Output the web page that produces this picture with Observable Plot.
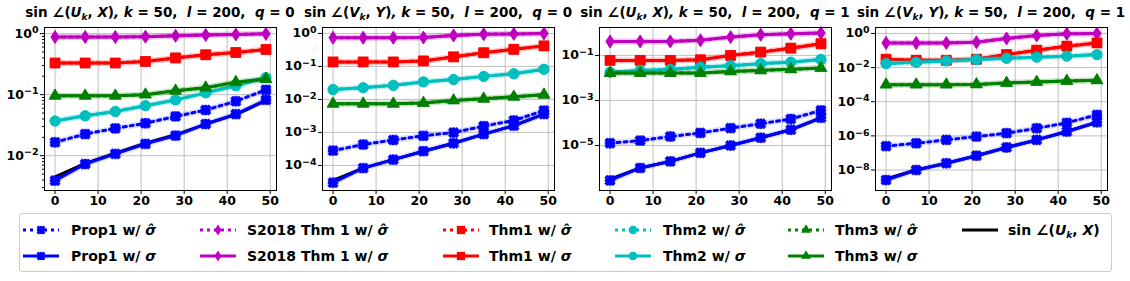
<!DOCTYPE html>
<html><head><meta charset="utf-8">
<script src="https://cdn.jsdelivr.net/npm/d3@7"></script>
<script src="https://cdn.jsdelivr.net/npm/@observablehq/plot@0.6"></script>
<style>
body{margin:0;background:#fff;font-family:"DejaVu Sans",sans-serif;font-weight:bold;color:#000}
#root{position:relative;width:1130px;height:281px;overflow:hidden}
.panel{position:absolute;top:0}
.title{position:absolute;top:4px;width:400px;text-align:center;font-size:13.5px;white-space:pre}
.legend{position:absolute;left:19px;top:213px;width:1093px;height:59px;border:1px solid #ccc;border-radius:3px;box-sizing:border-box}
.lg-item{position:absolute;font-size:14px;white-space:nowrap;line-height:16px}
.lg-swatch{position:absolute}
sub{font-size:9px;vertical-align:-3px}
</style>
</head><body>
<div id="root"></div>
<script>
// ---- data (markers every 7 iterations) ----
const iters = [0, 7, 14, 21, 28, 35, 42, 49];
const seriesKeys = ["trueSin", "prop1Hat", "prop1", "s2018Hat", "s2018", "thm1Hat", "thm1", "thm2Hat", "thm2", "thm3Hat", "thm3"];

// panel 1: sin∠(U_k,X), q=0
const ux0_trueSin = [0.0045, 0.0075, 0.011, 0.016, 0.022, 0.033, 0.047, 0.080];
const ux0_prop1Hat = [0.0166, 0.0226, 0.028, 0.034, 0.044, 0.056, 0.078, 0.12];
const ux0_prop1 = [0.0039, 0.0073, 0.0107, 0.0156, 0.0213, 0.033, 0.048, 0.082];
const ux0_s2018Hat = [0.88, 0.88, 0.88, 0.89, 0.92, 0.95, 0.97, 0.99];
const ux0_s2018 = [0.88, 0.88, 0.88, 0.89, 0.92, 0.95, 0.97, 0.99];
const ux0_thm1Hat = [0.33, 0.33, 0.33, 0.35, 0.40, 0.45, 0.49, 0.55];
const ux0_thm1 = [0.33, 0.33, 0.33, 0.35, 0.40, 0.45, 0.49, 0.55];
const ux0_thm2Hat = [0.037, 0.045, 0.053, 0.066, 0.082, 0.107, 0.14, 0.19];
const ux0_thm2 = [0.037, 0.045, 0.053, 0.066, 0.082, 0.107, 0.14, 0.19];
const ux0_thm3Hat = [0.096, 0.096, 0.096, 0.10, 0.116, 0.13, 0.16, 0.18];
const ux0_thm3 = [0.096, 0.096, 0.096, 0.10, 0.116, 0.13, 0.16, 0.18];

// panel 2: sin∠(V_k,Y), q=0
const vy0_trueSin = [0.000035, 0.000083, 0.00015, 0.00027, 0.00047, 0.00089, 0.0016, 0.0036];
const vy0_prop1Hat = [0.00028, 0.00043, 0.00059, 0.00079, 0.00099, 0.00155, 0.0023, 0.0046];
const vy0_prop1 = [0.00003, 0.000083, 0.00015, 0.00027, 0.00047, 0.00089, 0.0016, 0.0036];
const vy0_s2018Hat = [0.74, 0.74, 0.74, 0.75, 0.87, 0.95, 0.97, 1.0];
const vy0_s2018 = [0.74, 0.74, 0.74, 0.75, 0.87, 0.95, 0.97, 1.0];
const vy0_thm1Hat = [0.137, 0.137, 0.137, 0.147, 0.195, 0.26, 0.33, 0.42];
const vy0_thm1 = [0.137, 0.137, 0.137, 0.147, 0.195, 0.26, 0.33, 0.42];
const vy0_thm2Hat = [0.020, 0.0227, 0.0267, 0.034, 0.040, 0.050, 0.060, 0.082];
const vy0_thm2 = [0.020, 0.0227, 0.0267, 0.034, 0.040, 0.050, 0.060, 0.082];
const vy0_thm3Hat = [0.0074, 0.0074, 0.0074, 0.0078, 0.0093, 0.0105, 0.012, 0.0139];
const vy0_thm3 = [0.0074, 0.0074, 0.0074, 0.0078, 0.0093, 0.0105, 0.012, 0.0139];

// panel 3: sin∠(U_k,X), q=1
const ux1_trueSin = [3.2e-7, 1.0e-6, 1.96e-6, 4.7e-6, 1.0e-5, 2.2e-5, 5.0e-5, 1.7e-4];
const ux1_prop1Hat = [1.26e-5, 1.65e-5, 2.5e-5, 3.6e-5, 5.9e-5, 9.2e-5, 1.5e-4, 3.6e-4];
const ux1_prop1 = [2.8e-7, 1.0e-6, 1.96e-6, 4.7e-6, 1.0e-5, 2.2e-5, 5.0e-5, 1.7e-4];
const ux1_s2018Hat = [0.42, 0.42, 0.42, 0.47, 0.65, 0.83, 0.92, 0.98];
const ux1_s2018 = [0.42, 0.42, 0.42, 0.47, 0.65, 0.83, 0.92, 0.98];
const ux1_thm1Hat = [0.06, 0.06, 0.06, 0.064, 0.10, 0.14, 0.21, 0.33];
const ux1_thm1 = [0.06, 0.06, 0.06, 0.064, 0.10, 0.14, 0.21, 0.33];
const ux1_thm2Hat = [0.018, 0.0216, 0.024, 0.030, 0.035, 0.043, 0.050, 0.066];
const ux1_thm2 = [0.018, 0.0216, 0.024, 0.030, 0.035, 0.043, 0.050, 0.066];
const ux1_thm3Hat = [0.0164, 0.0164, 0.0164, 0.0164, 0.0195, 0.0216, 0.024, 0.0273];
const ux1_thm3 = [0.0164, 0.0164, 0.0164, 0.0164, 0.0195, 0.0216, 0.024, 0.0273];

// panel 4: sin∠(V_k,Y), q=1
const vy1_trueSin = [3.0e-9, 1.0e-8, 2.5e-8, 6.9e-8, 2.1e-7, 5.8e-7, 1.8e-6, 6.3e-6];
const vy1_prop1Hat = [2.5e-7, 3.7e-7, 5.8e-7, 9.1e-7, 1.44e-6, 2.8e-6, 5.8e-6, 1.7e-5];
const vy1_prop1 = [2.6e-9, 1.0e-8, 2.5e-8, 6.9e-8, 2.1e-7, 5.8e-7, 1.8e-6, 6.3e-6];
const vy1_s2018Hat = [0.28, 0.28, 0.28, 0.31, 0.51, 0.76, 0.95, 1.0];
const vy1_s2018 = [0.28, 0.28, 0.28, 0.31, 0.51, 0.76, 0.95, 1.0];
const vy1_thm1Hat = [0.031, 0.027, 0.027, 0.031, 0.058, 0.105, 0.18, 0.28];
const vy1_thm1 = [0.031, 0.027, 0.027, 0.031, 0.058, 0.105, 0.18, 0.28];
const vy1_thm2Hat = [0.0172, 0.0206, 0.0247, 0.0295, 0.0354, 0.041, 0.047, 0.058];
const vy1_thm2 = [0.0172, 0.0206, 0.0247, 0.0295, 0.0354, 0.041, 0.047, 0.058];
const vy1_thm3Hat = [0.0010, 0.0010, 0.0010, 0.00104, 0.00126, 0.00144, 0.00165, 0.0018];
const vy1_thm3 = [0.0010, 0.0010, 0.0010, 0.00104, 0.00126, 0.00144, 0.00165, 0.0018];

// y tick exponents per panel
const ux0_ticks = [0, -1, -2];
const vy0_ticks = [0, -1, -2, -3, -4];
const ux1_ticks = [-1, -3, -5];
const vy1_ticks = [0, -2, -4, -6, -8];
const xTicks = [0, 10, 20, 30, 40, 50];

// ---- symbols ----
function crossPath(ctx, a, L, rot) {
  const pts = [[-a,-L],[a,-L],[a,-a],[L,-a],[L,a],[a,a],[a,L],[-a,L],[-a,a],[-L,a],[-L,-a],[-a,-a]];
  const c = Math.cos(rot), s = Math.sin(rot);
  pts.forEach(([x, y], i) => { const X = x*c - y*s, Y = x*s + y*c; i ? ctx.lineTo(X, Y) : ctx.moveTo(X, Y); });
  ctx.closePath();
}
const starX = {draw(ctx, size) { const r = Math.sqrt(size / Math.PI); crossPath(ctx, 0.3*r, 1.05*r, Math.PI/4); crossPath(ctx, 0.24*r, 0.88*r, 0); }};
const thinDiamond = {draw(ctx, size) { const r = Math.sqrt(size / Math.PI); ctx.moveTo(0, -1.1*r); ctx.lineTo(0.7*r, 0); ctx.lineTo(0, 1.1*r); ctx.lineTo(-0.7*r, 0); ctx.closePath(); }};

const style = {
  trueSin: {color: "#000000", symbol: null, dash: null, r: 0},
  prop1Hat: {color: "#0000ff", symbol: starX, dash: "3,4", r: 5.6},
  prop1: {color: "#0000ff", symbol: starX, dash: null, r: 5.6},
  s2018Hat: {color: "#bf00bf", symbol: thinDiamond, dash: "3,4", r: 5.9},
  s2018: {color: "#bf00bf", symbol: thinDiamond, dash: null, r: 5.9},
  thm1Hat: {color: "#ff0000", symbol: d3.symbolSquare, dash: "3,4", r: 5.6},
  thm1: {color: "#ff0000", symbol: d3.symbolSquare, dash: null, r: 5.6},
  thm2Hat: {color: "#00bfbf", symbol: d3.symbolCircle, dash: "3,4", r: 5.2},
  thm2: {color: "#00bfbf", symbol: d3.symbolCircle, dash: null, r: 5.2},
  thm3Hat: {color: "#008000", symbol: d3.symbolTriangle, dash: "3,4", r: 4.4},
  thm3: {color: "#008000", symbol: d3.symbolTriangle, dash: null, r: 4.4}
};

const panels = [
  {vals: {trueSin: ux0_trueSin, prop1Hat: ux0_prop1Hat, prop1: ux0_prop1, s2018Hat: ux0_s2018Hat, s2018: ux0_s2018, thm1Hat: ux0_thm1Hat, thm1: ux0_thm1, thm2Hat: ux0_thm2Hat, thm2: ux0_thm2, thm3Hat: ux0_thm3Hat, thm3: ux0_thm3},
   ticks: ux0_ticks, domain: [-2.57, 0.1], minor: true, left: 0, title: 'sin ∠(<i>U<sub>k</sub></i>, <i>X</i>)<i>,</i> <i>k</i> = 50,  <i>l</i> = 200,  <i>q</i> = 0'},
  {vals: {trueSin: vy0_trueSin, prop1Hat: vy0_prop1Hat, prop1: vy0_prop1, s2018Hat: vy0_s2018Hat, s2018: vy0_s2018, thm1Hat: vy0_thm1Hat, thm1: vy0_thm1, thm2Hat: vy0_thm2Hat, thm2: vy0_thm2, thm3Hat: vy0_thm3Hat, thm3: vy0_thm3},
   ticks: vy0_ticks, domain: [-4.76, 0.18], minor: false, left: 278, title: 'sin ∠(<i>V<sub>k</sub></i>, <i>Y</i>)<i>,</i> <i>k</i> = 50,  <i>l</i> = 200,  <i>q</i> = 0'},
  {vals: {trueSin: ux1_trueSin, prop1Hat: ux1_prop1Hat, prop1: ux1_prop1, s2018Hat: ux1_s2018Hat, s2018: ux1_s2018, thm1Hat: ux1_thm1Hat, thm1: ux1_thm1, thm2Hat: ux1_thm2Hat, thm2: ux1_thm2, thm3Hat: ux1_thm3Hat, thm3: ux1_thm3},
   ticks: ux1_ticks, domain: [-7.0, 0.24], minor: false, left: 555, title: 'sin ∠(<i>U<sub>k</sub></i>, <i>X</i>)<i>,</i> <i>k</i> = 50,  <i>l</i> = 200,  <i>q</i> = 1'},
  {vals: {trueSin: vy1_trueSin, prop1Hat: vy1_prop1Hat, prop1: vy1_prop1, s2018Hat: vy1_s2018Hat, s2018: vy1_s2018, thm1Hat: vy1_thm1Hat, thm1: vy1_thm1, thm2Hat: vy1_thm2Hat, thm2: vy1_thm2, thm3Hat: vy1_thm3Hat, thm3: vy1_thm3},
   ticks: vy1_ticks, domain: [-9.2, 0.35], minor: false, left: 831, title: 'sin ∠(<i>V<sub>k</sub></i>, <i>Y</i>)<i>,</i> <i>k</i> = 50,  <i>l</i> = 200,  <i>q</i> = 1'}
];

const root = document.getElementById("root");
const W = 280, ML = 44, MR = 4, MT = 27, MB = 22, H = 212;

for (const p of panels) {
  const rows = seriesKeys.flatMap(k => iters.map((x, i) => ({x, y: p.vals[k][i], key: k})));
  const yTickVals = p.ticks.map(e => Math.pow(10, e));
  const marks = [
    Plot.gridX(xTicks, {stroke: "#b0b0b0", strokeOpacity: 1, strokeWidth: 0.8}),
    Plot.gridY(yTickVals, {stroke: "#b0b0b0", strokeOpacity: 1, strokeWidth: 0.8})
  ];
  for (const k of seriesKeys) {
    const s = style[k];
    const data = rows.filter(r => r.key === k);
    if (k !== "trueSin") marks.push(Plot.line(data, {x: "x", y: "y", stroke: s.color, strokeWidth: 6, strokeOpacity: 0.13}));
    marks.push(Plot.line(data, {x: "x", y: "y", stroke: s.color, strokeWidth: 3, strokeDasharray: s.dash || undefined, strokeLinejoin: "round"}));
    if (s.symbol) marks.push(Plot.dot(data, {x: "x", y: "y", symbol: () => s.symbol, r: s.r, fill: s.color, stroke: s.color, strokeWidth: 0.5}));
  }
  marks.push(Plot.frame({stroke: "#000", strokeWidth: 1}));
  marks.push(Plot.axisX({ticks: xTicks, tickSize: 4, tickPadding: 2, label: null, fontSize: 12.5}));
  marks.push(Plot.axisY({ticks: yTickVals, tickFormat: d => "10^" + Math.round(Math.log10(d)), tickSize: 4, tickPadding: 2, label: null, fontSize: 12.5}));
  if (p.minor) {
    const minor = [];
    for (let e = -3; e <= 0; e++) for (let m = 2; m <= 9; m++) { const v = m * Math.pow(10, e); if (Math.log10(v) > p.domain[0] && Math.log10(v) < p.domain[1]) minor.push(v); }
    marks.push(Plot.axisY({ticks: minor, tickSize: 2, tickFormat: () => "", label: null}));
  }
  const chart = Plot.plot({
    width: W, height: H, marginLeft: ML, marginRight: MR, marginTop: MT, marginBottom: MB,
    style: {fontFamily: "DejaVu Sans", fontWeight: "bold", fontSize: "12.5px", color: "#000", background: "transparent", overflow: "visible"},
    x: {domain: [-2.45, 51.45]},
    y: {type: "log", domain: p.domain.map(e => Math.pow(10, e))},
    marks
  });
  // render exponents as superscripts
  d3.select(chart).selectAll("text").each(function() {
    const t = this.textContent;
    if (t.startsWith("10^")) {
      const ex = t.slice(3).replace("-", "−");
      const sel = d3.select(this);
      sel.text("");
      sel.append("tspan").text("10");
      sel.append("tspan").attr("dy", "-0.45em").attr("font-size", "9.5px").text(ex);
    }
  });
  const wrap = document.createElement("div");
  wrap.className = "panel";
  wrap.style.left = p.left + "px";
  wrap.appendChild(chart);
  root.appendChild(wrap);
  const t = document.createElement("div");
  t.className = "title";
  t.style.left = (p.left + ML + (W - ML - MR) / 2 - 200) + "px";
  t.innerHTML = p.title;
  root.appendChild(t);
}

// ---- legend ----
const legend = document.createElement("div");
legend.className = "legend";
root.appendChild(legend);
const legendOrder = [["prop1Hat", "prop1"], ["s2018Hat", "s2018"], ["thm1Hat", "thm1"], ["thm2Hat", "thm2"], ["thm3Hat", "thm3"], ["trueSin"]];
const legendText = {
  prop1Hat: 'Prop1 w/ <i>σ̂</i>', prop1: 'Prop1 w/ <i>σ</i>',
  s2018Hat: 'S2018 Thm 1 w/ <i>σ̂</i>', s2018: 'S2018 Thm 1 w/ <i>σ</i>',
  thm1Hat: 'Thm1 w/ <i>σ̂</i>', thm1: 'Thm1 w/ <i>σ</i>',
  thm2Hat: 'Thm2 w/ <i>σ̂</i>', thm2: 'Thm2 w/ <i>σ</i>',
  thm3Hat: 'Thm3 w/ <i>σ̂</i>', thm3: 'Thm3 w/ <i>σ</i>',
  trueSin: 'sin ∠(<i>U<sub>k</sub></i>, <i>X</i>)'
};
const colSwatchX = [23, 200, 443, 615, 788, 962];
const colTextX = [71, 247, 489, 663, 835, 1008];
const rowY = [230, 256];
legendOrder.forEach((col, ci) => col.forEach((k, ri) => {
  const s = style[k];
  const svg = d3.create("svg").attr("width", 36).attr("height", 16).attr("class", "lg-swatch")
    .style("left", (colSwatchX[ci] - 20) + "px").style("top", (rowY[ri] - 8 - 214) + "px");
  svg.append("line").attr("x1", 0).attr("x2", 36).attr("y1", 8).attr("y2", 8)
    .attr("stroke", s.color).attr("stroke-width", 3).attr("stroke-dasharray", s.dash);
  if (s.symbol) svg.append("path").attr("transform", "translate(18,8)")
    .attr("d", d3.symbol(s.symbol, Math.PI * s.r * s.r * 0.7)()).attr("fill", s.color);
  legend.appendChild(svg.node());
  const t = document.createElement("div");
  t.className = "lg-item";
  t.style.left = (colTextX[ci] - 20) + "px";
  t.style.top = (rowY[ri] - 8 - 214) + "px";
  t.innerHTML = legendText[k];
  legend.appendChild(t);
}));
</script>
</body></html>
